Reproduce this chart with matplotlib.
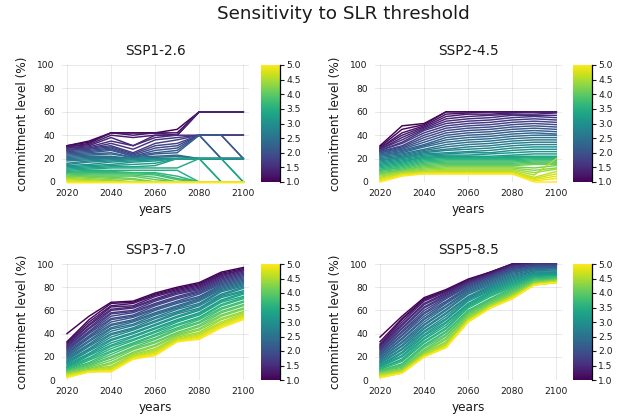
import matplotlib
matplotlib.use("Agg")
import matplotlib.pyplot as plt
import numpy as np
from matplotlib import cm, colors

years = [2020, 2030, 2040, 2050, 2060, 2070, 2080, 2090, 2100]
thresholds = [1.0, 1.1, 1.2, 1.3, 1.4, 1.5, 1.6, 1.7, 1.8, 1.9,
              2.0, 2.1, 2.2, 2.3, 2.4, 2.5, 2.6, 2.7, 2.8, 2.9,
              3.0, 3.1, 3.2, 3.3, 3.4, 3.5, 3.6, 3.7, 3.8, 3.9,
              4.0, 4.1, 4.2, 4.3, 4.4, 4.5, 4.6, 4.7, 4.8, 4.9, 5.0]
titles = ["SSP1-2.6", "SSP2-4.5", "SSP3-7.0", "SSP5-8.5"]

ssp126 = [
    [31, 35, 42, 42, 42, 45, 60, 60, 60],
    [31, 34, 42, 42, 42, 42, 60, 60, 60],
    [30, 33, 42, 40, 42, 40, 60, 60, 60],
    [30, 32, 40, 38, 40, 40, 60, 60, 60],
    [29, 31, 38, 31, 40, 40, 60, 60, 60],
    [29, 30, 35, 31, 38, 40, 40, 40, 40],
    [28, 29, 33, 28, 36, 38, 40, 40, 40],
    [27, 29, 31, 25, 33, 36, 40, 40, 40],
    [27, 28, 30, 24, 31, 33, 40, 40, 40],
    [26, 27, 29, 23, 29, 31, 40, 20, 20],
    [25, 26, 28, 22, 27, 29, 40, 40, 20],
    [24, 25, 27, 22, 25, 27, 40, 40, 20],
    [23, 24, 25, 21, 24, 25, 40, 20, 20],
    [22, 23, 24, 21, 22, 23, 20, 20, 20],
    [21, 22, 22, 20, 21, 22, 20, 20, 20],
    [20, 21, 21, 20, 20, 20, 20, 20, 20],
    [19, 20, 20, 20, 20, 20, 20, 20, 20],
    [18, 19, 20, 20, 20, 20, 20, 20, 20],
    [16, 18, 19, 20, 20, 20, 20, 20, 20],
    [15, 17, 18, 19, 20, 20, 20, 20, 20],
    [14, 15, 17, 18, 19, 20, 20, 20, 20],
    [13, 14, 15, 17, 18, 20, 20, 20, 0],
    [12, 13, 14, 15, 16, 20, 20, 0, 0],
    [11, 12, 13, 13, 14, 20, 20, 20, 0],
    [10, 11, 12, 12, 12, 12, 20, 0, 0],
    [9, 10, 10, 10, 10, 10, 0, 0, 0],
    [8, 9, 9, 8, 8, 5, 0, 0, 0],
    [8, 8, 8, 8, 7, 3, 0, 0, 0],
    [7, 7, 7, 7, 6, 2, 0, 0, 0],
    [7, 6, 6, 6, 4, 0, 0, 0, 0],
    [6, 5, 5, 5, 2, 0, 0, 0, 0],
    [5, 5, 4, 3, 0, 0, 0, 0, 0],
    [5, 4, 3, 2, 0, 0, 0, 0, 0],
    [4, 3, 2, 0, 0, 0, 0, 0, 0],
    [3, 2, 1, 0, 0, 0, 0, 0, 0],
    [3, 1, 0, 0, 0, 0, 0, 0, 0],
    [2, 1, 0, 0, 0, 0, 0, 0, 0],
    [1, 0, 0, 0, 0, 0, 0, 0, 0],
    [1, 0, 0, 0, 0, 0, 0, 0, 0],
    [0, 0, 0, 0, 0, 0, 0, 0, 0],
    [0, 0, 0, 0, 0, 0, 0, 0, 0],
]

ssp245 = [
    [31, 48, 50, 60, 60, 60, 60, 60, 60],
    [30, 45, 49, 60, 60, 60, 60, 60, 60],
    [29, 42, 48, 58, 59, 60, 60, 60, 60],
    [29, 40, 47, 56, 58, 58, 59, 60, 60],
    [28, 38, 46, 54, 56, 57, 58, 58, 59],
    [28, 36, 45, 52, 54, 55, 57, 57, 57],
    [27, 34, 44, 50, 52, 53, 55, 56, 55],
    [27, 33, 42, 48, 50, 51, 53, 54, 53],
    [26, 31, 40, 46, 48, 49, 51, 52, 51],
    [26, 30, 38, 44, 46, 47, 49, 50, 49],
    [25, 29, 36, 42, 44, 45, 47, 48, 47],
    [25, 28, 34, 40, 42, 43, 45, 46, 45],
    [24, 27, 32, 38, 40, 41, 43, 44, 43],
    [23, 26, 31, 36, 38, 39, 41, 42, 41],
    [23, 25, 30, 34, 36, 37, 39, 40, 40],
    [22, 24, 28, 32, 34, 35, 37, 38, 38],
    [21, 23, 27, 30, 32, 33, 35, 36, 36],
    [20, 22, 26, 28, 30, 31, 33, 34, 34],
    [19, 21, 25, 27, 28, 29, 31, 32, 32],
    [18, 21, 24, 25, 26, 27, 29, 30, 30],
    [17, 20, 23, 24, 25, 25, 27, 28, 28],
    [16, 19, 22, 23, 23, 24, 25, 26, 26],
    [15, 18, 21, 22, 22, 22, 23, 24, 24],
    [14, 17, 21, 21, 21, 21, 22, 22, 22],
    [13, 16, 20, 21, 21, 21, 21, 21, 21],
    [12, 15, 19, 20, 20, 20, 20, 21, 21],
    [11, 14, 18, 19, 19, 19, 19, 20, 20],
    [10, 13, 17, 18, 18, 18, 18, 19, 19],
    [10, 12, 16, 17, 17, 17, 17, 18, 18],
    [9, 11, 15, 16, 16, 16, 16, 17, 17],
    [8, 10, 14, 15, 15, 15, 15, 16, 16],
    [7, 10, 13, 14, 14, 14, 14, 15, 15],
    [7, 9, 12, 13, 13, 13, 13, 12, 14],
    [6, 9, 11, 12, 12, 12, 12, 10, 12],
    [5, 8, 10, 11, 11, 11, 11, 8, 11],
    [4, 8, 9, 10, 10, 10, 10, 6, 20],
    [3, 7, 9, 9, 9, 9, 9, 4, 9],
    [2, 7, 8, 8, 8, 8, 8, 3, 7],
    [2, 6, 8, 8, 8, 8, 8, 2, 5],
    [1, 6, 7, 7, 7, 7, 7, 1, 3],
    [0, 5, 7, 7, 7, 7, 7, 0, 0],
]

ssp370 = [
    [40, 55, 67, 68, 75, 80, 84, 93, 97],
    [33, 52, 66, 67, 74, 79, 83, 92, 96],
    [32, 50, 64, 66, 73, 78, 82, 91, 95],
    [31, 48, 63, 64, 72, 77, 81, 90, 95],
    [30, 47, 61, 63, 70, 76, 80, 89, 94],
    [29, 45, 60, 62, 69, 75, 79, 88, 93],
    [28, 44, 58, 60, 68, 74, 78, 87, 92],
    [27, 42, 57, 59, 66, 72, 77, 86, 91],
    [26, 41, 55, 58, 65, 71, 76, 85, 90],
    [25, 40, 53, 56, 64, 70, 75, 84, 89],
    [24, 38, 52, 55, 62, 68, 74, 83, 88],
    [23, 37, 50, 54, 61, 67, 72, 82, 87],
    [22, 36, 48, 52, 60, 66, 71, 81, 86],
    [21, 34, 47, 51, 58, 64, 70, 80, 85],
    [20, 33, 45, 50, 57, 63, 69, 79, 84],
    [19, 31, 44, 48, 56, 62, 68, 78, 83],
    [18, 30, 42, 47, 54, 61, 66, 77, 82],
    [17, 29, 40, 45, 53, 59, 65, 76, 81],
    [16, 27, 39, 44, 51, 58, 64, 74, 80],
    [15, 26, 37, 43, 50, 57, 62, 73, 79],
    [14, 25, 35, 41, 48, 55, 61, 72, 77],
    [13, 23, 34, 40, 47, 54, 60, 71, 76],
    [12, 22, 32, 38, 45, 52, 58, 69, 75],
    [11, 21, 30, 37, 44, 51, 57, 68, 74],
    [11, 19, 29, 35, 42, 50, 56, 67, 72],
    [10, 18, 27, 34, 41, 48, 54, 65, 71],
    [9, 17, 25, 32, 39, 47, 53, 64, 70],
    [9, 15, 24, 31, 38, 45, 52, 62, 68],
    [8, 14, 22, 30, 36, 44, 50, 61, 67],
    [8, 13, 20, 28, 35, 43, 49, 59, 65],
    [7, 12, 19, 27, 33, 41, 47, 58, 64],
    [7, 11, 17, 26, 32, 40, 46, 56, 62],
    [6, 10, 15, 24, 30, 39, 44, 55, 61],
    [6, 9, 14, 23, 29, 38, 43, 53, 59],
    [5, 9, 12, 22, 27, 37, 41, 52, 58],
    [5, 8, 11, 21, 26, 36, 40, 50, 57],
    [4, 8, 10, 20, 25, 35, 39, 49, 56],
    [4, 8, 9, 20, 24, 34, 38, 48, 55],
    [3, 7, 8, 19, 23, 34, 37, 47, 54],
    [3, 7, 8, 18, 22, 33, 36, 46, 53],
    [2, 7, 7, 18, 21, 33, 35, 45, 52],
]

ssp585 = [
    [37, 55, 71, 78, 87, 93, 100, 100, 100],
    [33, 53, 70, 77, 86, 93, 100, 100, 100],
    [31, 52, 69, 77, 86, 92, 100, 100, 100],
    [30, 50, 68, 76, 85, 92, 99, 100, 100],
    [29, 48, 66, 75, 85, 91, 99, 100, 100],
    [28, 47, 65, 74, 84, 91, 98, 100, 100],
    [27, 45, 63, 73, 83, 90, 98, 100, 100],
    [26, 44, 62, 72, 83, 90, 97, 99, 100],
    [25, 42, 60, 71, 82, 89, 96, 99, 99],
    [24, 41, 58, 70, 81, 88, 96, 98, 99],
    [23, 39, 57, 68, 80, 88, 95, 98, 98],
    [22, 38, 55, 67, 79, 87, 94, 97, 98],
    [21, 36, 53, 66, 78, 86, 94, 97, 97],
    [20, 35, 52, 64, 77, 85, 93, 96, 97],
    [19, 33, 50, 63, 76, 84, 92, 96, 96],
    [18, 32, 48, 61, 75, 83, 91, 95, 96],
    [17, 30, 47, 60, 74, 82, 90, 94, 95],
    [16, 29, 45, 58, 72, 81, 89, 94, 94],
    [15, 27, 44, 57, 71, 80, 88, 93, 93],
    [14, 26, 42, 55, 70, 79, 87, 92, 93],
    [13, 24, 41, 53, 69, 78, 86, 92, 92],
    [12, 23, 39, 52, 68, 77, 85, 91, 91],
    [12, 21, 38, 50, 66, 76, 84, 90, 91],
    [11, 20, 36, 49, 65, 75, 83, 90, 90],
    [10, 18, 35, 47, 64, 74, 82, 89, 90],
    [10, 17, 33, 45, 63, 73, 81, 88, 89],
    [9, 16, 32, 44, 62, 72, 80, 88, 89],
    [8, 14, 30, 42, 60, 70, 79, 87, 88],
    [8, 13, 29, 41, 59, 69, 78, 86, 88],
    [7, 12, 28, 39, 58, 68, 77, 86, 87],
    [7, 11, 26, 38, 57, 67, 76, 85, 87],
    [6, 10, 25, 36, 56, 66, 75, 85, 86],
    [6, 9, 24, 35, 55, 65, 74, 84, 86],
    [5, 9, 23, 33, 54, 65, 73, 84, 86],
    [5, 8, 22, 32, 53, 64, 73, 83, 85],
    [4, 8, 22, 31, 52, 64, 72, 83, 85],
    [4, 7, 21, 30, 52, 63, 72, 83, 85],
    [3, 7, 21, 29, 51, 63, 71, 82, 84],
    [3, 6, 20, 29, 51, 62, 71, 82, 84],
    [2, 6, 20, 28, 50, 62, 70, 82, 84],
    [2, 6, 20, 28, 50, 62, 70, 82, 84],
]

panels = [ssp126, ssp245, ssp370, ssp585]

W, H = 639, 418
fig = plt.figure(figsize=(W / 100, H / 100), dpi=100)
plt.rcParams['font.family'] = ['DejaVu Sans']

cmap = plt.get_cmap('viridis')
norm = colors.Normalize(vmin=1.0, vmax=5.0)

# pixel layouts: (axes left, top, right, bottom), colorbar left,right
ax_boxes = [(61.7, 65, 248.6, 182), (374.7, 65, 561.6, 182),
            (61.7, 264, 248.6, 380), (374.7, 264, 561.6, 380)]
cb_boxes = [(261, 280), (573, 592)]

def frac(l, t, r, b):
    return [l / W, 1 - b / H, (r - l) / W, (b - t) / H]

txtcol = '#1a1a1a'
for k, data in enumerate(panels):
    l, t, r, b = ax_boxes[k]
    ax = fig.add_axes(frac(l, t, r, b))
    for thr, vals in zip(thresholds, data):
        ax.plot(years, vals, color=cmap(norm(thr)), lw=1.05,
                solid_joinstyle='miter', clip_on=False)
    ax.set_xlim(2017.6, 2102.4)
    ax.set_ylim(0, 100)
    ax.set_xticks([2020, 2040, 2060, 2080, 2100])
    ax.set_yticks([0, 20, 40, 60, 80, 100])
    ax.grid(True, color='#000000', alpha=0.09, lw=0.7)
    ax.set_axisbelow(True)
    for s in ax.spines.values():
        s.set_visible(False)
    ax.tick_params(length=0, labelsize=6.6, colors=txtcol, pad=5)
    ax.set_xlabel('years', fontsize=8.7, color=txtcol, labelpad=4)
    ax.set_ylabel('commitment level (%)', fontsize=8.7, color=txtcol, labelpad=6)
    ax.set_title(titles[k], fontsize=9.8, color=txtcol, pad=7)

    cl, cr = cb_boxes[k % 2]
    cax = fig.add_axes(frac(cl, t, cr, b))
    sm = cm.ScalarMappable(norm=norm, cmap=cmap)
    cb = fig.colorbar(sm, cax=cax)
    cb.outline.set_visible(False)
    cb.set_ticks([1.0, 1.5, 2.0, 2.5, 3.0, 3.5, 4.0, 4.5, 5.0])
    cb.ax.tick_params(labelsize=6.6, colors=txtcol, length=3, width=0.8, pad=1.5)
    cax.plot([1, 1], [0, 1], transform=cax.transAxes, color='black', lw=0.9,
             clip_on=False)

fig.text(343 / W, 1 - 14 / H, 'Sensitivity to SLR threshold', fontsize=13.2,
         ha='center', va='center', color=txtcol)

fig.savefig('out.png', dpi=100)
